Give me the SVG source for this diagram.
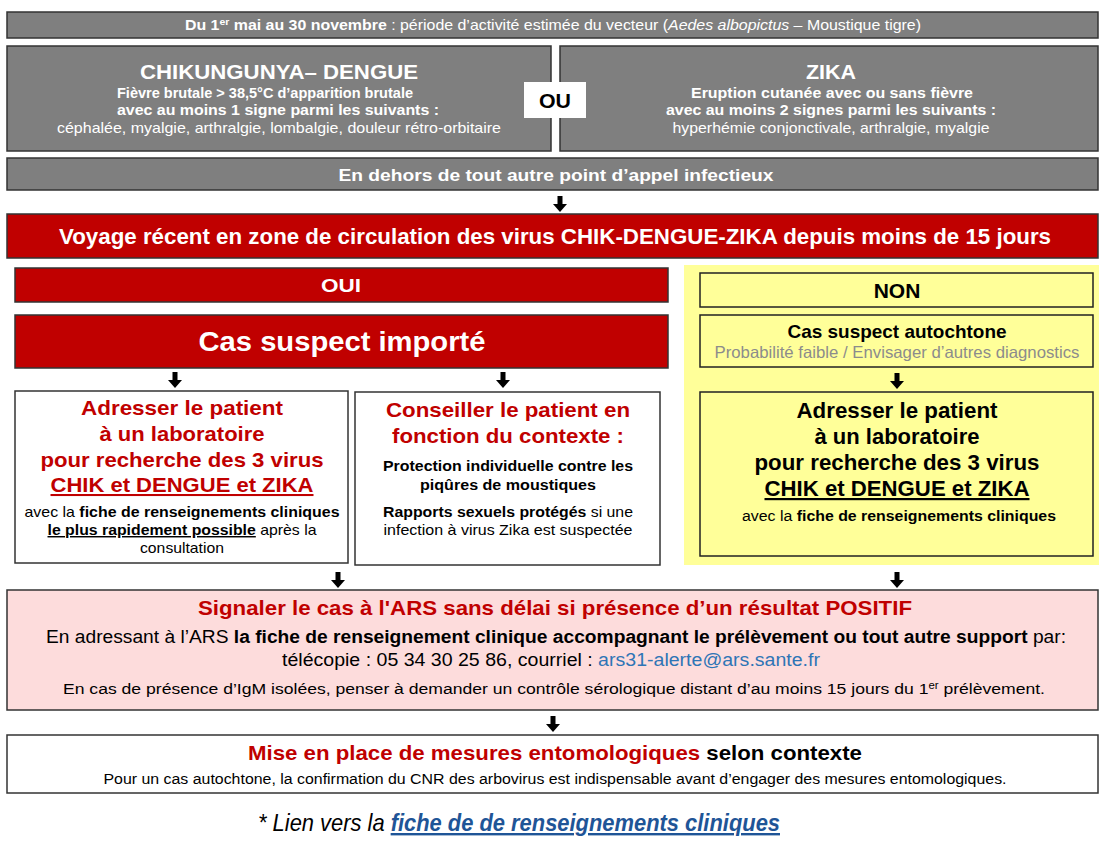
<svg xmlns="http://www.w3.org/2000/svg" xmlns:xlink="http://www.w3.org/1999/xlink" width="1099" height="845" viewBox="0 0 1099 845">
<style>
text{font-family:"Liberation Sans",Arial,sans-serif;text-anchor:middle}
.grey{fill:#7f7f7f;stroke:#333;stroke-width:1.5}
.red{fill:#c00000;stroke:#333;stroke-width:1.5}
.yel{fill:#ffff99;stroke:#222;stroke-width:1.5}
.wht{fill:#fff;stroke:#333;stroke-width:1.5}
.pink{fill:#fddcdc;stroke:#333;stroke-width:1.5}
.w{fill:#fff}
.k{fill:#000}
.r{fill:#c00000}
.b{font-weight:bold}
.arr{fill:#000}
</style>
<defs>
<path id="ar" d="M-2.5,0 h5 v8 h4.5 l-7,8 l-7,-8 h4.5 z"/>
</defs>
<g id="n-periode">
<rect class="grey" x="7" y="12" width="1091" height="26"/>
<text class="w" x="553" y="30" font-size="14.5" textLength="736" lengthAdjust="spacingAndGlyphs"><tspan class="b">Du 1<tspan font-size="9.5" dy="-5">er</tspan><tspan dy="5"> mai au 30 novembre</tspan></tspan> : période d’activité estimée du vecteur (<tspan font-style="italic">Aedes albopictus</tspan> – Moustique tigre)</text>
</g>
<g id="n-chik">
<rect class="grey" x="7" y="46" width="544" height="105"/>
<text class="w b" x="279" y="79" font-size="20.5" textLength="278" lengthAdjust="spacingAndGlyphs">CHIKUNGUNYA– DENGUE</text>
<text class="w b" x="265" y="98" font-size="15" textLength="296" lengthAdjust="spacingAndGlyphs">Fièvre brutale &gt; 38,5°C d’apparition brutale</text>
<text class="w b" x="278" y="115" font-size="15" textLength="322" lengthAdjust="spacingAndGlyphs">avec au moins 1 signe parmi les suivants :</text>
<text class="w" x="279" y="133" font-size="15" textLength="444" lengthAdjust="spacingAndGlyphs">céphalée, myalgie, arthralgie, lombalgie,  douleur rétro-orbitaire</text>
</g>
<g id="n-zika">
<rect class="grey" x="560" y="46" width="538" height="105"/>
<text class="w b" x="831" y="79" font-size="20.5" textLength="50" lengthAdjust="spacingAndGlyphs">ZIKA</text>
<text class="w b" x="832" y="98" font-size="15" textLength="282" lengthAdjust="spacingAndGlyphs">Eruption cutanée avec ou sans fièvre</text>
<text class="w b" x="831" y="115" font-size="15" textLength="330" lengthAdjust="spacingAndGlyphs">avec au moins 2 signes parmi les suivants :</text>
<text class="w" x="831" y="133" font-size="15" textLength="317" lengthAdjust="spacingAndGlyphs">hyperhémie conjonctivale, arthralgie, myalgie</text>
</g>
<g id="n-ou">
<rect x="524" y="82" width="62" height="36" fill="#fff"/>
<text class="k b" x="555" y="108" font-size="20.5" textLength="32" lengthAdjust="spacingAndGlyphs">OU</text>
</g>
<g id="n-dehors">
<rect class="grey" x="7" y="158" width="1091" height="32"/>
<text class="w b" x="556" y="181" font-size="17" textLength="435" lengthAdjust="spacingAndGlyphs">En dehors de tout autre point d’appel infectieux</text>
</g>
<g id="n-voyage">
<rect class="red" x="7" y="214" width="1091" height="44"/>
<text class="w b" x="555" y="244" font-size="22" textLength="992" lengthAdjust="spacingAndGlyphs">Voyage récent en zone de circulation des virus CHIK-DENGUE-ZIKA depuis moins de 15 jours</text>
</g>
<g id="n-oui">
<rect class="red" x="15" y="268" width="653" height="34"/>
<text class="w b" x="341" y="292" font-size="19" textLength="40" lengthAdjust="spacingAndGlyphs">OUI</text>
</g>
<g id="n-importe">
<rect class="red" x="15" y="315" width="653" height="53"/>
<text class="w b" x="342" y="351" font-size="27" textLength="287" lengthAdjust="spacingAndGlyphs">Cas suspect importé</text>
</g>
<g id="n-non-panel">
<rect x="684" y="265" width="415" height="300" fill="#ffff99"/>
</g>
<g id="n-non">
<rect class="yel" x="700" y="273" width="393" height="34"/>
<text class="k b" x="897" y="298" font-size="21">NON</text>
</g>
<g id="n-autochtone">
<rect class="yel" x="700" y="315" width="393" height="52"/>
<text class="k b" x="897" y="338" font-size="18.5" textLength="219" lengthAdjust="spacingAndGlyphs">Cas suspect autochtone</text>
<text x="897" y="358" font-size="16.5" fill="#8c8c8c" textLength="365" lengthAdjust="spacingAndGlyphs">Probabilité faible / Envisager d’autres diagnostics</text>
</g>
<g id="n-labo-non">
<rect class="yel" x="700" y="392" width="393" height="164"/>
<g class="k b" font-size="22">
<text x="897" y="418" textLength="201" lengthAdjust="spacingAndGlyphs">Adresser le patient</text>
<text x="897" y="444">à un laboratoire</text>
<text x="897" y="470" textLength="285" lengthAdjust="spacingAndGlyphs">pour recherche des 3 virus</text>
<text x="897" y="496" text-decoration="underline" textLength="265" lengthAdjust="spacingAndGlyphs">CHIK et DENGUE et ZIKA</text>
</g>
<text class="k" x="899" y="521" font-size="15.5" textLength="314" lengthAdjust="spacingAndGlyphs"><tspan>avec la </tspan><tspan class="b">fiche de renseignements cliniques</tspan></text>
</g>
<g id="n-labo-oui">
<rect class="wht" x="15" y="391" width="333" height="172"/>
<g class="r b" font-size="20.5">
<text x="182" y="415" textLength="202" lengthAdjust="spacingAndGlyphs">Adresser  le patient</text>
<text x="182" y="441" textLength="165" lengthAdjust="spacingAndGlyphs">à un laboratoire</text>
<text x="182" y="467" textLength="283" lengthAdjust="spacingAndGlyphs">pour recherche des 3 virus</text>
<text x="182" y="492" textLength="263" lengthAdjust="spacingAndGlyphs" text-decoration="underline">CHIK et DENGUE et ZIKA</text>
</g>
<g class="k" font-size="14.5">
<text x="182" y="517" textLength="315" lengthAdjust="spacingAndGlyphs">avec la <tspan class="b">fiche de renseignements cliniques</tspan></text>
<text x="182" y="535" textLength="269" lengthAdjust="spacingAndGlyphs"><tspan class="b" text-decoration="underline">le plus rapidement possible</tspan> après la</text>
<text x="182" y="553" textLength="84" lengthAdjust="spacingAndGlyphs">consultation</text>
</g>
</g>
<g id="n-conseil">
<rect class="wht" x="355" y="392" width="305" height="173"/>
<g class="r b" font-size="20.5">
<text x="508" y="417" textLength="244" lengthAdjust="spacingAndGlyphs">Conseiller le patient en</text>
<text x="508" y="443" textLength="232" lengthAdjust="spacingAndGlyphs">fonction du contexte :</text>
</g>
<g class="k" font-size="14.5">
<text class="b" x="508" y="471" textLength="250" lengthAdjust="spacingAndGlyphs">Protection individuelle contre les</text>
<text class="b" x="508" y="490" textLength="176" lengthAdjust="spacingAndGlyphs">piqûres de moustiques</text>
<text x="508" y="517" textLength="250" lengthAdjust="spacingAndGlyphs"><tspan class="b">Rapports sexuels protégés</tspan> si une</text>
<text x="508" y="535" textLength="249" lengthAdjust="spacingAndGlyphs">infection à virus Zika est suspectée</text>
</g>
</g>
<g id="n-signaler">
<rect class="pink" x="7" y="590" width="1091" height="120"/>
<text class="r b" x="555" y="615" font-size="21" textLength="714" lengthAdjust="spacingAndGlyphs">Signaler le cas à l'ARS sans délai si présence d’un résultat POSITIF</text>
<text class="k" x="556" y="643" font-size="17.5" textLength="1020" lengthAdjust="spacingAndGlyphs">En adressant à l’ARS <tspan class="b">la fiche de renseignement clinique accompagnant le prélèvement ou tout autre support</tspan> par:</text>
<text class="k" x="551" y="666" font-size="17.5" textLength="538" lengthAdjust="spacingAndGlyphs">télécopie : 05 34 30 25 86, courriel : <tspan fill="#2e75b6">ars31-alerte@ars.sante.fr</tspan></text>
<text class="k" x="554" y="694" font-size="15.5" textLength="982" lengthAdjust="spacingAndGlyphs">En cas de présence d’IgM isolées, penser à demander  un contrôle sérologique distant d’au moins 15 jours du 1<tspan font-size="10" dy="-5">er</tspan><tspan dy="5"> prélèvement.</tspan></text>
</g>
<g id="n-mesures">
<rect class="wht" x="7" y="735" width="1091" height="58"/>
<text x="555" y="760" font-size="21" textLength="614" lengthAdjust="spacingAndGlyphs"><tspan class="r b">Mise en place de mesures entomologiques</tspan><tspan class="k b"> selon contexte</tspan></text>
<text class="k" x="555" y="784" font-size="14" textLength="903" lengthAdjust="spacingAndGlyphs">Pour un cas autochtone, la confirmation du CNR des arbovirus est indispensable avant d’engager des mesures entomologiques.</text>
</g>
<g id="n-lien">
<text x="519" y="831" font-size="24" font-style="italic" textLength="522" lengthAdjust="spacingAndGlyphs"><tspan class="k">* Lien vers la </tspan><tspan class="b" fill="#1f5597" text-decoration="underline">fiche de de renseignements cliniques</tspan></text>
</g>
<g id="connectors" class="arr">
<use xlink:href="#ar" x="560" y="196"/>
<use xlink:href="#ar" x="175" y="372"/>
<use xlink:href="#ar" x="503" y="372"/>
<use xlink:href="#ar" x="897" y="373"/>
<use xlink:href="#ar" x="338" y="572"/>
<use xlink:href="#ar" x="897" y="572"/>
<use xlink:href="#ar" x="553" y="716"/>
</g>
</svg>
